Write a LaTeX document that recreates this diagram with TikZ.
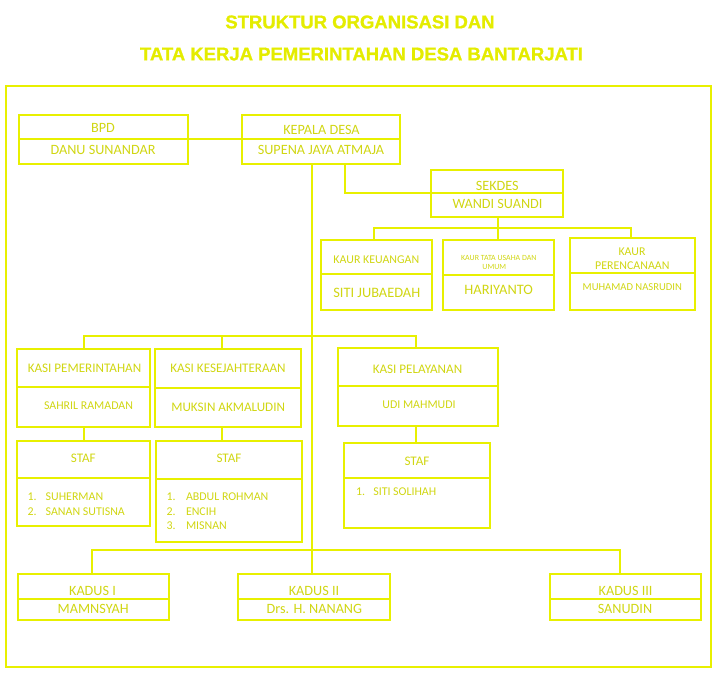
\documentclass[tikz,border=0pt]{standalone}
\usepackage{fontspec}
\setmainfont{Carlito}
\newfontfamily\titlefont[BoldFeatures={FakeBold=1.2}]{Liberation Sans}
\definecolor{lineY}{RGB}{232,240,0}
\definecolor{textY}{RGB}{208,214,18}
\definecolor{titleY}{RGB}{228,236,0}
\begin{document}
\begin{tikzpicture}[x=1pt,y=-1pt,
  box/.style={draw=lineY,line width=2pt,inner sep=0pt,outer sep=0pt,rectangle},
  conn/.style={draw=lineY,line width=2pt},
  divider/.style={draw=lineY,line width=2pt},
  lbl/.style={text=textY,inner sep=0pt,outer sep=0pt},
  fA/.style={font=\fontsize{14.2}{16}\selectfont},
  fB/.style={font=\fontsize{13.1}{15}\selectfont},
  fC/.style={font=\fontsize{11.9}{14}\selectfont},
  titlestyle/.style={text=titleY,inner sep=0pt,font=\titlefont\bfseries\fontsize{18.5}{21}\selectfont}]
\useasboundingbox (0,0) rectangle (718,679);

% title
\node[titlestyle] (t1) at (360,22) {STRUKTUR ORGANISASI DAN};
\node[titlestyle] (t2) at (361.5,54) {TATA KERJA PEMERINTAHAN DESA BANTARJATI};

% frame
\node[box,minimum width=705,minimum height=581] (frame) at (358.5,376.5) {};

% boxes
\node[box,minimum width=169,minimum height=49] (bpd) at (103.5,139.5) {};
\node[box,minimum width=158,minimum height=49] (kades) at (321,139.5) {};
\node[box,minimum width=132,minimum height=47] (sekdes) at (497,193.5) {};
\node[box,minimum width=111,minimum height=70] (kaur1) at (376.5,275) {};
\node[box,minimum width=111,minimum height=70] (kaur2) at (498.5,275) {};
\node[box,minimum width=125,minimum height=72] (kaur3) at (632.5,274) {};
\node[box,minimum width=133,minimum height=78] (kasi1) at (83.5,388) {};
\node[box,minimum width=146,minimum height=78] (kasi2) at (228,388) {};
\node[box,minimum width=160,minimum height=78] (kasi3) at (418,387) {};
\node[box,minimum width=133,minimum height=85] (staf1) at (83.5,483.5) {};
\node[box,minimum width=146,minimum height=101] (staf2) at (229,491.5) {};
\node[box,minimum width=146,minimum height=85] (staf3) at (417,485.5) {};
\node[box,minimum width=151,minimum height=46] (kadus1) at (93.5,597) {};
\node[box,minimum width=152,minimum height=46] (kadus2) at (314,597) {};
\node[box,minimum width=151,minimum height=46] (kadus3) at (625.5,597) {};

% dividers
\draw[divider] (bpd.west |- 0,139) -- (bpd.east |- 0,139);
\draw[divider] (kades.west |- 0,139) -- (kades.east |- 0,139);
\draw[divider] (sekdes.west |- 0,193) -- (sekdes.east |- 0,193);
\draw[divider] (kaur1.west |- 0,274) -- (kaur1.east |- 0,274);
\draw[divider] (kaur2.west |- 0,275) -- (kaur2.east |- 0,275);
\draw[divider] (kaur3.west |- 0,273) -- (kaur3.east |- 0,273);
\draw[divider] (kasi1.west |- 0,387) -- (kasi1.east |- 0,387);
\draw[divider] (kasi2.west |- 0,388) -- (kasi2.east |- 0,388);
\draw[divider] (kasi3.west |- 0,386) -- (kasi3.east |- 0,386);
\draw[divider] (staf1.west |- 0,478) -- (staf1.east |- 0,478);
\draw[divider] (staf2.west |- 0,479) -- (staf2.east |- 0,479);
\draw[divider] (staf3.west |- 0,478) -- (staf3.east |- 0,478);
\draw[divider] (kadus1.west |- 0,599) -- (kadus1.east |- 0,599);
\draw[divider] (kadus2.west |- 0,599) -- (kadus2.east |- 0,599);
\draw[divider] (kadus3.west |- 0,599) -- (kadus3.east |- 0,599);

% texts
\node[lbl,fA] (bpdT) at (103,128) {BPD};
\node[lbl,fA] (bpdN) at (103,150) {DANU SUNANDAR};
\node[lbl,fA] (kadesT) at (321.5,130) {KEPALA DESA};
\node[lbl,fA] (kadesN) at (321,150) {SUPENA JAYA ATMAJA};
\node[lbl,fA] (sekdesT) at (497.3,185.5) {SEKDES};
\node[lbl,fA] (sekdesN) at (497.5,204) {WANDI SUANDI};
\node[lbl,fC] (kaur1T) at (376.3,259.5) {KAUR KEUANGAN};
\node[lbl,font=\fontsize{14.4}{16}\selectfont] (kaur1N) at (376.8,292.5) {SITI JUBAEDAH};
\node[lbl,font=\fontsize{7.9}{9}\selectfont] (kaur2Ta) at (498.8,257.7) {KAUR TATA USAHA DAN};
\node[lbl,font=\fontsize{7.9}{9}\selectfont] (kaur2Tb) at (494.3,267.3) {UMUM};
\node[lbl,font=\fontsize{14.4}{16}\selectfont] (kaur2N) at (498.7,289.5) {HARIYANTO};
\node[lbl,fC] (kaur3Ta) at (632,252) {KAUR};
\node[lbl,fC] (kaur3Tb) at (632.3,266) {PERENCANAAN};
\node[lbl,font=\fontsize{10.6}{12}\selectfont] (kaur3N) at (632.3,287.5) {MUHAMAD NASRUDIN};
\node[lbl,fB] (kasi1T) at (84.5,368) {KASI PEMERINTAHAN};
\node[lbl,fC] (kasi1N) at (88.5,406) {SAHRIL RAMADAN};
\node[lbl,fB] (kasi2T) at (228,368) {KASI KESEJAHTERAAN};
\node[lbl,fB] (kasi2N) at (228.2,407) {MUKSIN AKMALUDIN};
\node[lbl,fB] (kasi3T) at (417.5,369) {KASI PELAYANAN};
\node[lbl,fC] (kasi3N) at (419,405) {UDI MAHMUDI};
\node[lbl,fB] (staf1T) at (83.3,458) {STAF};
\node[lbl,fB] (staf2T) at (229,458) {STAF};
\node[lbl,fB] (staf3T) at (417,461) {STAF};
\node[lbl,fC,anchor=west] (s1a) at (27.7,497) {1.};
\node[lbl,fC,anchor=west] (s1an) at (45.7,497) {SUHERMAN};
\node[lbl,fC,anchor=west] (s1b) at (27.7,512) {2.};
\node[lbl,fC,anchor=west] (s1bn) at (45.7,512) {SANAN SUTISNA};
\node[lbl,fC,anchor=west] (s2a) at (166.7,497) {1.};
\node[lbl,fC,anchor=west] (s2an) at (186,497) {ABDUL ROHMAN};
\node[lbl,fC,anchor=west] (s2b) at (166.7,512) {2.};
\node[lbl,fC,anchor=west] (s2bn) at (186,512) {ENCIH};
\node[lbl,fC,anchor=west] (s2c) at (166.7,526) {3.};
\node[lbl,fC,anchor=west] (s2cn) at (186,526) {MISNAN};
\node[lbl,fC,anchor=west] (s3a) at (356,492) {1.};
\node[lbl,fC,anchor=west] (s3an) at (373.3,492) {SITI SOLIHAH};
\node[lbl,fA] (kadus1T) at (92.5,591) {KADUS I};
\node[lbl,fA] (kadus1N) at (93.2,609) {MAMNSYAH};
\node[lbl,fA] (kadus2T) at (314,591) {KADUS II};
\node[lbl,fA] (kadus2N) at (314.4,609) {Drs. H. NANANG};
\node[lbl,fA] (kadus3T) at (625.6,591) {KADUS III};
\node[lbl,fA] (kadus3N) at (625,609) {SANUDIN};

% junction coordinates
\coordinate (sj) at (498,228);
\coordinate (kj) at (312,336);
\coordinate (dj) at (312,550);

% connectors
\draw[conn] (bpd.east) -- (kades.west);
\draw[conn] (kades.south -| 312,0) -- (kadus2.north -| 312,0);
\draw[conn] (kades.south -| 345,0) |- (sekdes.west);
\draw[conn] (sekdes.south -| sj) -- (sj);
\draw[conn] (kaur1.north -| 374,0) |- (sj) -| (kaur3.north -| 631,0);
\draw[conn] (sj) -- (sj |- kaur2.north);
\draw[conn] (kasi1.north) |- (kj) -| (kasi3.north -| 416,0);
\draw[conn] (kasi2.north -| 222,0) -- (222,336);
\draw[conn] (kasi1.south) -- (staf1.north);
\draw[conn] (kasi2.south -| 222,0) -- (staf2.north -| 222,0);
\draw[conn] (kasi3.south -| 416,0) -- (staf3.north -| 416,0);
\draw[conn] (kadus1.north -| 92,0) |- (dj) -| (kadus3.north -| 620,0);
\end{tikzpicture}
\end{document}
